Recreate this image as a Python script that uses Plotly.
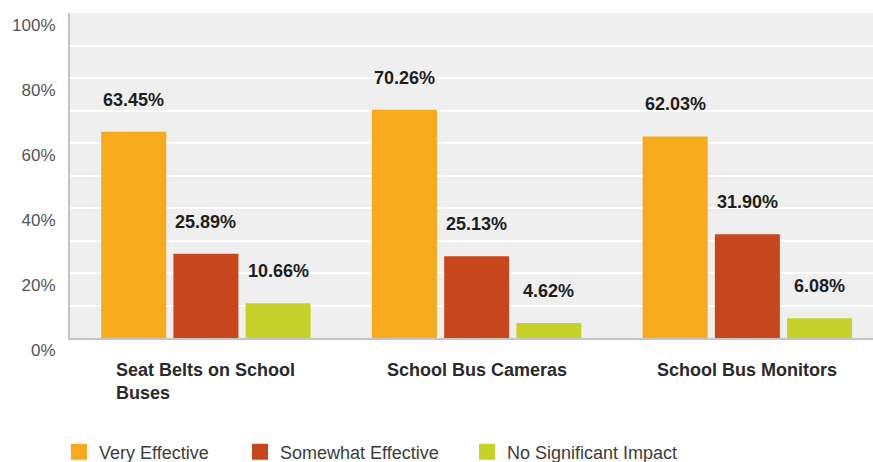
import plotly.graph_objects as go

# Survey results: perceived effectiveness of school bus safety measures (%)
categories = ["Seat Belts on School<br>Buses", "School Bus Cameras", "School Bus Monitors"]
very_effective = [63.45, 70.26, 62.03]
somewhat_effective = [25.89, 25.13, 31.90]
no_impact = [10.66, 4.62, 6.08]

series_names = ["Very Effective", "Somewhat Effective", "No Significant Impact"]
series_values = [very_effective, somewhat_effective, no_impact]
colors = ["#F6AA1C", "#C8461B", "#C6D12A"]

y_ticks = [0, 20, 40, 60, 80, 100]
y_tick_text = ["0%", "20%", "40%", "60%", "80%", "100%"]

FONT = "Liberation Sans, Arial, sans-serif"
x_idx = list(range(len(categories)))

fig = go.Figure()
for name, vals, col in zip(series_names, series_values, colors):
    fig.add_trace(go.Bar(x=x_idx, y=vals, name=name, marker_color=col,
                         marker_line_width=0, showlegend=False))

# Legend entries, each in its own legend box so spacing can be set freely
legend_ids = ["legend", "legend2", "legend3"]
legend_x = [59, 240, 467]
for name, col, lid in zip(series_names, colors, legend_ids):
    fig.add_trace(go.Scatter(x=[None], y=[None], mode="markers", name=name,
                             marker=dict(symbol="square", size=23, color=col),
                             legend=lid, showlegend=True))

# Value labels above each bar
slot = 0.8 / 3
annotations = []
for k, vals in enumerate(series_values):
    for i, v in enumerate(vals):
        annotations.append(dict(
            x=i + (k - 1) * slot, y=v, xref="x", yref="y",
            text=f"{v:.2f}%", showarrow=False, yanchor="middle", yshift=32,
            font=dict(family=FONT, size=18, color="#1e1e1e", weight="bold")))

# Category labels under the axis, left-aligned when wrapped
for i, c in enumerate(categories):
    annotations.append(dict(
        x=i, y=0, xref="x", yref="y", text=f"<b>{c}</b>", showarrow=False,
        xanchor="center", yanchor="top", yshift=-20, align="left",
        font=dict(family=FONT, size=18, color="#2a2a2a")))

layout_legends = {}
for lid, lx in zip(legend_ids, legend_x):
    layout_legends[lid] = dict(
        x=lx / 873, y=10 / 462, xref="container", yref="container",
        xanchor="left", yanchor="middle", orientation="h",
        bgcolor="rgba(0,0,0,0)", font=dict(family=FONT, size=18, color="#3c3c3c"),
        itemsizing="trace")

fig.update_layout(
    width=873, height=462,
    margin=dict(l=70, r=0, t=13, b=124),
    paper_bgcolor="white", plot_bgcolor="#EFEFEF",
    barmode="group", bargap=0.2, bargroupgap=0.1,
    annotations=annotations,
    font=dict(family=FONT),
    **layout_legends,
)
fig.update_xaxes(range=[-0.502, 2.464], showticklabels=False, showgrid=False,
                 zeroline=False, showline=True, linecolor="#C4C4C4", linewidth=2,
                 fixedrange=True)
fig.update_yaxes(range=[0, 100], tickvals=y_ticks, ticktext=y_tick_text,
                 ticklabelposition="outside bottom", ticklabelstandoff=9,
                 tickfont=dict(family=FONT, size=17, color="#555555"),
                 showgrid=True, gridcolor="white", gridwidth=2,
                 minor=dict(dtick=10, showgrid=True, gridcolor="white", gridwidth=2),
                 zeroline=False, showline=True, linecolor="#C4C4C4", linewidth=2,
                 fixedrange=True)

fig.write_html("out.html")
